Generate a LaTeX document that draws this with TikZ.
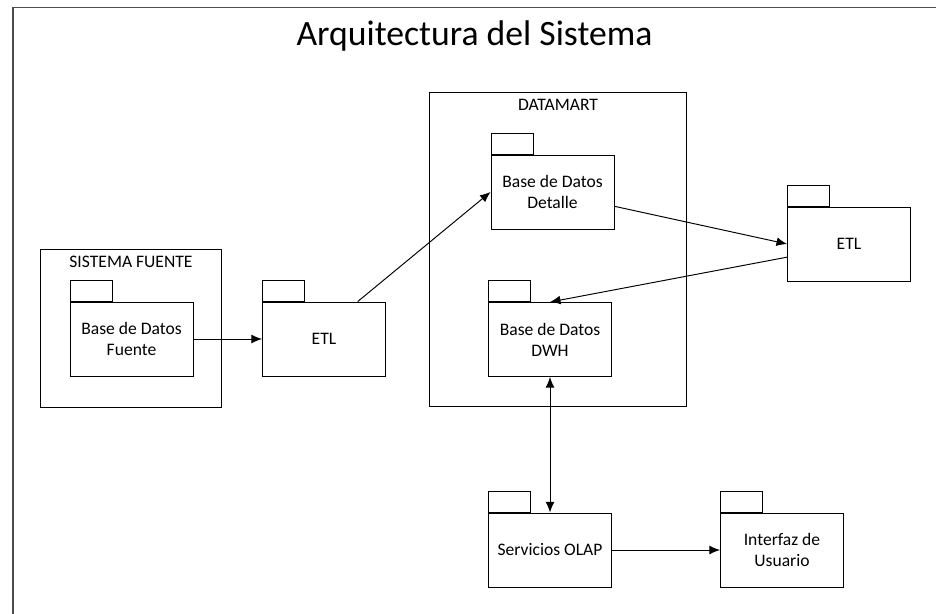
\documentclass[tikz,border=0pt]{standalone}
\usepackage{fontspec}
\setmainfont{Carlito}
\usetikzlibrary{arrows.meta}

\tikzset{
  pkg/.style={draw, line width=.55pt, minimum width=2.46cm, minimum height=1.48cm,
    align=center, inner sep=1pt, font=\fontsize{10}{11.9}\selectfont},
  pkgtab/.style={draw, line width=.55pt, minimum width=.84cm, minimum height=.42cm,
    inner sep=0pt, anchor=south west},
  container/.style={draw, line width=.55pt, inner sep=0pt},
  lbl/.style={anchor=base, inner sep=0pt, font=\fontsize{10}{12}\selectfont}
}

\begin{document}
\begin{tikzpicture}[>={Latex[length=6pt,width=5pt]}, x=.02cm, y=-.02cm]
\useasboundingbox (0,0) rectangle (936,614);
% marco
\draw [line width=.8pt, gray!60!black] (13,700)--(13,7.5)--(1000,7.5);
\node [anchor=base, inner sep=0pt, font=\fontsize{20.3}{24}\selectfont] (titulo) at (474.5,46) {Arquitectura del Sistema};

% contenedores
\node [container, minimum width=3.62cm, minimum height=3.18cm] (sistema) at (130.5,328.5) {};
\node [lbl] (sistemaLbl) at (131,268) {SISTEMA FUENTE};
\node [container, minimum width=5.14cm, minimum height=6.3cm] (datamart) at (557.5,249.5) {};
\node [lbl] (datamartLbl) at (558,111) {DATAMART};

% paquetes
\node [pkg] (fuente) at (131.5,339) {Base de Datos\\Fuente};
\node [pkg] (etlA) at (324,339) {ETL};
\node [pkg] (detalle) at (552.5,192) {Base de Datos\\Detalle};
\node [pkg] (dwh) at (550,339.5) {Base de Datos\\DWH};
\node [pkg] (etlB) at (849,244) {ETL};
\node [pkg] (olap) at (550,550) {Servicios OLAP};
\node [pkg] (usuario) at (782,550) {Interfaz de\\Usuario};
\foreach \n in {fuente, etlA, detalle, dwh, etlB, olap, usuario}
  \node [pkgtab] (\n Tab) at (\n.north west) {};

% flujos
\draw [->, line width=.55pt] (fuente)--(etlA);
\draw [->, line width=.55pt] (etlA.48)--(detalle.west);
\draw [->, line width=.55pt] (detalle.-13)--(etlB.west);
\draw [->, line width=.55pt] (etlB.192)--(dwh.north);
\draw [<->, line width=.55pt] (dwh.south)--(olap.north);
\draw [->, line width=.55pt] (olap)--(usuario);
\end{tikzpicture}
\end{document}
